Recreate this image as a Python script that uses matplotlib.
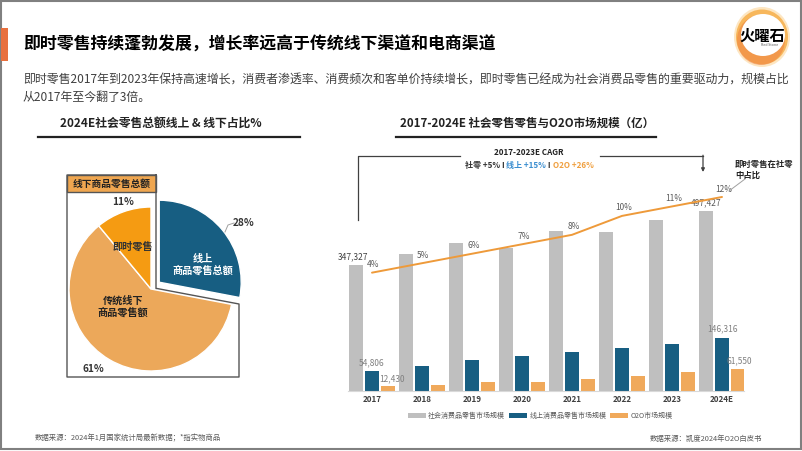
import matplotlib
matplotlib.use("Agg")
import matplotlib.pyplot as plt
from matplotlib.patches import Rectangle, Ellipse
from matplotlib.offsetbox import TextArea, HPacker, AnnotationBbox
import numpy as np

plt.rcParams['font.family'] = ['Noto Sans CJK SC', 'DejaVu Sans']

# ---------------- data ----------------
years = ['2017', '2018', '2019', '2020', '2021', '2022', '2023', '2024E']
social_retail = [347327, 377000, 408000, 393000, 441000, 439000, 471000, 497427]
online_retail = [54806, 70000, 85000, 97600, 108000, 119600, 130000, 146316]
o2o_market = [12430, 16500, 24000, 25700, 33000, 42000, 51500, 61550]
instant_share = [4, 5, 6, 7, 8, 10, 11, 12]
labeled_social = {0: '347,327', 7: '497,427'}
labeled_online = {0: '54,806', 7: '146,316'}
labeled_o2o = {0: '12,430', 7: '61,550'}
legend_labels = ['社会消费品零售市场规模', '线上消费品零售市场规模', 'O2O市场规模']

pie_labels = ['线上\n商品零售总额', '传统线下\n商品零售额', '即时零售']
pie_values = [28, 61, 11]

title = '即时零售持续蓬勃发展，增长率远高于传统线下渠道和电商渠道'
body1 = '即时零售2017年到2023年保持高速增长，消费者渗透率、消费频次和客单价持续增长，即时零售已经成为社会消费品零售的重要驱动力，规模占比'
body2 = '从2017年至今翻了3倍。'
left_header = '2024E社会零售总额线上 & 线下占比%'
right_header = '2017-2024E 社会零售零售与O2O市场规模（亿）'
footer_left = '数据来源：2024年1月国家统计局最新数据；*指实物商品'
footer_right = '数据来源：凯度2024年O2O白皮书'

GRAY = '#BFBFBF'
BLUE = '#175E82'
ORANGE = '#F0A95B'
PIE_BRIGHT = '#F59B12'
PIE_LIGHT = '#ECA85A'

W, H = 802, 451
fig = plt.figure(figsize=(W / 100, H / 100), dpi=100)
fig.patch.set_facecolor('white')

def fx(px):
    return px / W

def fy(py):
    return 1 - py / H

# ---------------- bar chart ----------------
bl, br, bt, bb = 348, 744, 150, 391
ax = fig.add_axes([fx(bl), fy(bb), (br - bl) / W, (bb - bt) / H], zorder=2)
ax.set_facecolor('none')
x = np.arange(len(years))
bw = 0.28
off = 0.32
b1 = ax.bar(x - off, social_retail, bw, color=GRAY, label=legend_labels[0])
b2 = ax.bar(x, online_retail, bw, color=BLUE, label=legend_labels[1])
b3 = ax.bar(x + off, o2o_market, bw, color=ORANGE, label=legend_labels[2])
ax.set_xlim(-0.48, 7.44)
ax.set_ylim(0, (bb - bt) / 0.0003626)
ax.set_xticks(x)
ax.set_xticklabels(years, fontsize=5.8, fontweight='bold', color='#404040')
ax.tick_params(axis='x', length=0, pad=3)
ax.set_yticks([])
for s in ['top', 'right', 'left']:
    ax.spines[s].set_visible(False)
ax.spines['bottom'].set_color('#D9D9D9')
ax.spines['bottom'].set_linewidth(0.8)

for i, t in labeled_social.items():
    ax.annotate(t, (x[i] - off, social_retail[i]), xytext=(-2 if i == 0 else 0, 2.5),
                textcoords='offset points', ha='center', va='bottom',
                fontsize=6, color='#404040' if i == 0 else '#595959')
for i, t in labeled_online.items():
    ax.annotate(t, (x[i], online_retail[i]), xytext=(0, 3),
                textcoords='offset points', ha='center', va='bottom',
                fontsize=6, color='#808080')
for i, t in labeled_o2o.items():
    ax.annotate(t, (x[i] + off, o2o_market[i]), xytext=(3 if i == 0 else 1, 2.5),
                textcoords='offset points', ha='center', va='bottom',
                fontsize=6, color='#808080')

ax2 = ax.twinx()
ax2.set_facecolor('none')
ax2.set_ylim(-(bb - 310.5) / 9.46, (310.5 - bt) / 9.46)
ax2.plot(x, instant_share, color='#EE9A3A', lw=1.4, solid_capstyle='round')
ax2.set_yticks([])
for s in ax2.spines.values():
    s.set_visible(False)
for i, v in enumerate(instant_share):
    ax2.annotate(f'{v}%', (x[i], v), xytext=(1, 2.5), textcoords='offset points',
                 ha='center', va='bottom', fontsize=6, color='#595959')

ax.legend(handles=[b1, b2, b3], loc='center', ncol=3, frameon=False,
          bbox_to_anchor=(fx(540), fy(416)), bbox_transform=fig.transFigure,
          fontsize=5, handlelength=2.6, handleheight=0.55, handletextpad=0.35,
          columnspacing=0.5, labelcolor='#595959')

# ---------------- pie ----------------
pcx, pcy, pr = 151, 289, 82
half = 150
axp = fig.add_axes([fx(pcx - half), fy(pcy + half), 2 * half / W, 2 * half / H], zorder=2)
axp.pie(pie_values, colors=[BLUE, PIE_LIGHT, PIE_BRIGHT], startangle=90,
        counterclock=False, explode=[0.13, 0, 0],
        wedgeprops=dict(edgecolor='white', linewidth=1.0))
axp.set_xlim(-half / pr, half / pr)
axp.set_ylim(-half / pr, half / pr)
axp.set_aspect('equal')
axp.axis('off')

# ---------------- overlay ----------------
ov = fig.add_axes([0, 0, 1, 1], zorder=10)
ov.set_xlim(0, W)
ov.set_ylim(H, 0)
ov.patch.set_alpha(0)
ov.axis('off')

# slide border
ov.add_patch(Rectangle((1, 1), W - 2.5, H - 3, fill=False, edgecolor='#808080', lw=1.5))
# accent bar
ov.add_patch(Rectangle((1, 28), 7, 33, color='#E8703E', lw=0))

ov.text(23, 45, title, fontsize=12.2, fontweight='bold', color='black', va='center', ha='left')
ov.text(23, 80, body1, fontsize=8.6, color='#404040', va='center', ha='left')
ov.text(23, 97, body2, fontsize=8.6, color='#404040', va='center', ha='left')

# logo
ov.add_patch(Ellipse((762, 37), 56, 60, color='#FDE6C2', lw=0))
ov.add_patch(Ellipse((762, 37), 52, 55, color='#F6A83A', lw=0, alpha=0.75))
ov.add_patch(Ellipse((761, 40), 48, 50, color='#E9602E', lw=0, alpha=0.35))
ov.add_patch(Ellipse((763, 35), 44, 42, color='white', lw=0))
ov.text(762, 36, '火曜石', fontsize=11, fontweight='bold', color='black', ha='center', va='center')
ov.text(770, 45, 'Red Stone', fontsize=2.6, color='#555555', ha='center', va='center')

# sub headers
ov.text(161, 123, left_header, fontsize=8.5, fontweight='bold', color='#222222', ha='center', va='center')
ov.plot([38, 300], [137, 137], color='#222222', lw=1.6)
ov.text(527, 123, right_header, fontsize=8.3, fontweight='bold', color='#222222', ha='center', va='center')
ov.plot([396, 656], [137, 137], color='#222222', lw=1.6)

# pie frame + header
ov.plot([156, 67, 67, 239, 239, 157, 156, 156],
        [175, 175, 377, 377, 304, 288.5, 288.5, 175], color='#555555', lw=1.0)
ov.add_patch(Rectangle((67, 175), 89, 16.7, facecolor='#EFA650', edgecolor='#555555', lw=1.0))
ov.text(111.5, 183.5, '线下商品零售总额', fontsize=7, fontweight='bold', color='#222222', ha='center', va='center')

ov.text(123, 202, f'{pie_values[2]}%', fontsize=7.3, fontweight='bold', color='#333333', ha='center', va='center')
ov.text(244, 222.5, f'{pie_values[0]}%', fontsize=7.3, fontweight='bold', color='#333333', ha='center', va='center')
ov.plot([225, 228, 234], [232, 225, 223], color='#A0A0A0', lw=0.7)
ov.text(93, 369, f'{pie_values[1]}%', fontsize=7.3, fontweight='bold', color='#333333', ha='center', va='center')

ov.text(132.5, 247, pie_labels[2], fontsize=7.3, fontweight='bold', color='#333333', ha='center', va='center')
ov.text(203, 265, pie_labels[0], fontsize=7.3, fontweight='bold', color='white', ha='center', va='center',
        linespacing=1.2)
ov.text(123, 306.5, pie_labels[1], fontsize=7.3, fontweight='bold', color='#222222', ha='center', va='center',
        linespacing=1.2)

# CAGR bracket
ov.plot([358, 358, 460], [220, 155.7, 155.7], color='#404040', lw=0.9)
ov.plot([600, 703], [155.7, 155.7], color='#404040', lw=0.9)
ov.annotate('', xy=(703, 172), xytext=(703, 155.2),
            arrowprops=dict(arrowstyle='-|>', color='#404040', lw=0.9, mutation_scale=5,
                            shrinkA=0, shrinkB=0))
ov.text(529, 152.5, '2017-2023E CAGR', fontsize=5.8, fontweight='bold', color='#222222', ha='center', va='center')
parts = [('社零 +5% I ', '#333333'), ('线上 +15%', '#3B8ED0'), (' I ', '#333333'), ('O2O +26%', '#F0A040')]
pack = HPacker(children=[TextArea(s, textprops=dict(fontsize=5.8, fontweight='bold', color=c)) for s, c in parts],
               sep=0, pad=0, align='center')
ov.add_artist(AnnotationBbox(pack, (529, 165.5), frameon=False, box_alignment=(0.5, 0.5), pad=0))

ov.text(735, 170, '即时零售在社零\n中占比', fontsize=6, fontweight='bold', color='#222222', ha='left',
        va='center', linespacing=1.15)
ov.plot([729, 745], [191, 179], color='#A0A0A0', lw=0.7)

# footers
ov.text(35, 438.5, footer_left, fontsize=5.3, color='#595959', ha='left', va='center', style='italic')
ov.text(762, 438.5, footer_right, fontsize=5.3, color='#595959', ha='right', va='center', style='italic')

fig.savefig('out.png', dpi=100)
